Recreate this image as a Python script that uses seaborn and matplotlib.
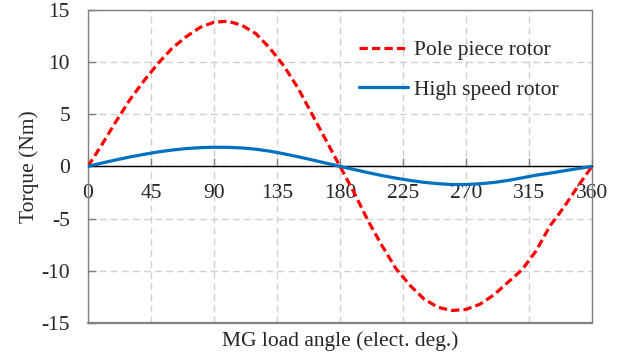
import numpy as np
import pandas as pd
import matplotlib
matplotlib.use("Agg")
import matplotlib.pyplot as plt
import seaborn as sns

# Load angle (electrical degrees)
angle = [0, 10, 20, 30, 40, 50, 60, 70, 80, 90, 100, 110, 120, 130, 140, 150, 160, 170, 180,
         190, 200, 210, 220, 230, 240, 250, 260, 270, 280, 290, 300, 310, 320, 330, 340, 350, 360]

# Torque on the pole piece rotor (Nm)
pole_piece = [0.0, 2.1, 4.3, 6.4, 8.2, 9.85, 11.3, 12.4, 13.3, 13.8, 13.9, 13.5, 12.7, 11.3, 9.6, 7.5, 5.0, 2.5, 0.0,
              -2.5, -5.2, -7.6, -9.8, -11.4, -12.7, -13.5, -13.8, -13.7, -13.2, -12.3, -11.1, -9.9, -8.1, -5.7, -3.9, -1.9, 0.0]

# Torque on the high speed rotor (Nm)
high_speed = [0.0, 0.32, 0.62, 0.9, 1.15, 1.38, 1.56, 1.7, 1.79, 1.83, 1.82, 1.76, 1.64, 1.45, 1.2, 0.92, 0.62, 0.31, 0.0,
              -0.3, -0.6, -0.88, -1.13, -1.35, -1.53, -1.66, -1.74, -1.74, -1.67, -1.54, -1.35, -1.1, -0.85, -0.65, -0.43, -0.21, 0.0]

x_ticks = [0, 45, 90, 135, 180, 225, 270, 315, 360]
y_ticks = [-15, -10, -5, 0, 5, 10, 15]

FS = 15.5

sns.set_style("white")
plt.rcParams["font.family"] = ["Liberation Serif", "DejaVu Serif"]
plt.rcParams["font.size"] = FS

df = pd.DataFrame({"angle": angle, "pole": pole_piece, "high": high_speed})

fig = plt.figure(figsize=(6.26, 3.56), dpi=100)
ax = fig.add_axes([88 / 626, 1 - 323 / 356, (592 - 88) / 626, (323 - 9.7) / 356])

sns.lineplot(data=df, x="angle", y="pole", ax=ax, color="#ff0000", lw=2.3,
             linestyle=(0, (2.6, 1.3)), label="Pole piece rotor", zorder=4)
sns.lineplot(data=df, x="angle", y="high", ax=ax, color="#0070c0", lw=2.3,
             label="High speed rotor", zorder=5)

ax.set_xlim(0, 360)
ax.set_ylim(-15, 15)
ax.set_xticks(x_ticks)
ax.set_yticks(y_ticks)
ax.set_xticklabels([str(v) for v in x_ticks])
ax.set_yticklabels([str(v) for v in y_ticks])

ax.grid(True, color="#d0d0d0", linestyle=(0, (5, 3)), linewidth=1.0, zorder=0)
ax.set_axisbelow(True)

frame = "#808080"
for side in ["top", "right", "left"]:
    ax.spines[side].set_color(frame)
    ax.spines[side].set_linewidth(1.0)
# x axis sits on the zero line; the frame bottom is redrawn at -15
ax.spines["bottom"].set_position(("data", 0))
ax.spines["bottom"].set_color("black")
ax.spines["bottom"].set_linewidth(1.0)
ax.spines["bottom"].set_zorder(3)
ax.axhline(-15, color=frame, lw=1.6, clip_on=False, zorder=3)

ax.tick_params(axis="x", direction="in", length=6, width=1, color=frame, pad=13,
               labelsize=FS, bottom=True)
ax.tick_params(axis="y", direction="in", length=6, width=1, color=frame, pad=13,
               labelsize=FS, left=True)

ax.set_xlabel("MG load angle (elect. deg.)", fontsize=FS, labelpad=0)
ax.xaxis.set_label_coords(0.5, -0.027)
ax.set_ylabel("Torque (Nm)", fontsize=FS, labelpad=2)

leg = ax.legend(loc="upper left", bbox_to_anchor=(0.52, 0.93), frameon=False,
                fontsize=FS, handlelength=2.3, handletextpad=0.25, labelspacing=0.9,
                borderaxespad=0)

fig.savefig("out.png", dpi=100)
